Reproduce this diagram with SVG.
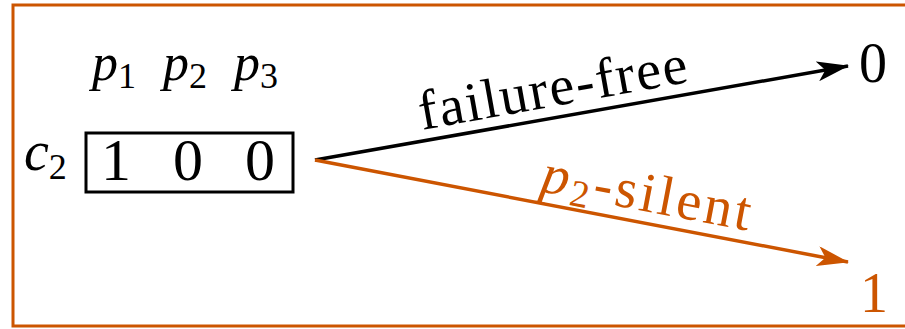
<svg xmlns="http://www.w3.org/2000/svg" width="905" height="329" viewBox="0 0 905 329">
<style>
.i{font-style:italic}
.o{fill:#cc5500}
</style>
<defs>
<marker id="ab" markerWidth="32" markerHeight="20" refX="31" refY="10" orient="auto" markerUnits="userSpaceOnUse" viewBox="0 0 32 20">
<path d="M0,0 L32,10 L0,20 L8,10 Z" fill="#000"/>
</marker>
<marker id="ao" markerWidth="32" markerHeight="20" refX="31" refY="10" orient="auto" markerUnits="userSpaceOnUse" viewBox="0 0 32 20">
<path d="M0,0 L32,10 L0,20 L8,10 Z" fill="#cc5500"/>
</marker>
</defs>
<rect x="13" y="5" width="900" height="321" fill="none" stroke="#cc5500" stroke-width="3"/>
<g font-family="Liberation Serif, DejaVu Serif, serif" fill="#000">
<g id="header">
<text class="i" x="92" y="80" font-size="52">p<tspan font-size="36" font-style="normal" dy="8">1</tspan></text>
<text class="i" x="163" y="80" font-size="52">p<tspan font-size="36" font-style="normal" dy="8">2</tspan></text>
<text class="i" x="234" y="80" font-size="52">p<tspan font-size="36" font-style="normal" dy="8">3</tspan></text>
</g>
<g id="c2">
<text class="i" x="24" y="170" font-size="56">c<tspan font-size="36" font-style="normal" dy="9">2</tspan></text>
<rect x="86" y="133" width="207" height="59" fill="none" stroke="#000" stroke-width="3"/>
<text x="116" y="180" font-size="60" text-anchor="middle">1</text>
<text x="188" y="180" font-size="60" text-anchor="middle">0</text>
<text x="260" y="180" font-size="60" text-anchor="middle">0</text>
</g>
<g id="out0"><text x="873" y="82" font-size="56" text-anchor="middle">0</text></g>
<g id="out1"><text class="o" x="874" y="312" font-size="56" text-anchor="middle">1</text></g>
<g id="connectors">
<line x1="315" y1="160" x2="848" y2="66" stroke="#000" stroke-width="3.5" marker-end="url(#ab)"/>
<line x1="315" y1="160" x2="848" y2="262" stroke="#cc5500" stroke-width="3.5" marker-end="url(#ao)"/>
<text font-size="56" transform="translate(422,130) rotate(-10.2)" textLength="272">failure-free</text>
<text class="o" font-size="56" transform="translate(539,191) rotate(10.8)" textLength="212"><tspan font-style="italic">p</tspan><tspan font-size="38" dy="8">2</tspan><tspan dy="-8">-silent</tspan></text>
</g>
</g>
</svg>
